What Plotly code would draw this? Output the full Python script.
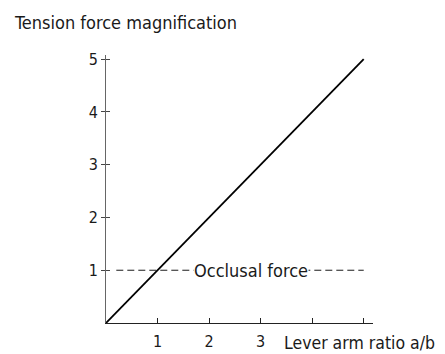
import plotly.graph_objects as go

# lever arm ratio vs tension force magnification
lever_ratio = [0, 5]
tension = [0, 5]

occlusal_x = [0.2, 5.0]
occlusal_y = [1, 1]

x_ticks = [1, 2, 3, 4, 5]
x_labels = ["1", "2", "3", "", ""]
y_ticks = [1, 2, 3, 4, 5]

FONT = "DejaVu Sans Condensed, Liberation Sans Narrow, Arial"
INK = "#1a1a1a"

fig = go.Figure()
fig.add_trace(go.Scatter(x=occlusal_x, y=occlusal_y, mode="lines",
                         line=dict(color=INK, width=1, dash="7px,4px"),
                         hoverinfo="skip"))
fig.add_trace(go.Scatter(x=lever_ratio, y=tension, mode="lines",
                         line=dict(color="black", width=1.8)))

fig.add_annotation(x=2.82, y=1, text="Occlusal force", showarrow=False,
                   bgcolor="white", font=dict(size=18, color=INK),
                   xref="x", yref="y", borderpad=0)
fig.add_annotation(x=1.0, y=0, xref="paper", yref="paper",
                   xanchor="left", yanchor="middle", text="Lever arm ratio a/b",
                   showarrow=False, font=dict(size=17.5, color=INK),
                   xshift=-91, yshift=-20)
fig.add_annotation(x=0, y=1, xref="paper", yref="paper", xanchor="left",
                   yanchor="middle", text="Tension force magnification",
                   showarrow=False, font=dict(size=18, color=INK),
                   xshift=-94, yshift=33)

# the page puts the plot 8px in from the top-left corner
fig.update_layout(
    width=437, height=346,
    margin=dict(l=98, r=72, t=47, b=31),
    paper_bgcolor="white", plot_bgcolor="white",
    showlegend=False,
    font=dict(family=FONT, size=16, color=INK),
    xaxis=dict(range=[0, 5.18], tickvals=x_ticks, ticktext=x_labels,
               ticks="inside", ticklen=5, tickcolor="#222",
               ticklabelstandoff=4, automargin=False,
               showline=True, linecolor="#222", linewidth=1.2,
               showgrid=False, zeroline=False, fixedrange=True),
    yaxis=dict(range=[0, 5.08], tickvals=y_ticks, ticks="outside",
               ticklen=4, tickcolor="#444", showline=True, linecolor="#666",
               linewidth=1, showgrid=False, zeroline=False, fixedrange=True,
               automargin=False),
    yaxis2=dict(range=[0, 5.08], tickvals=y_ticks, ticks="inside",
                ticklen=4, tickcolor="#444", showticklabels=False,
                overlaying="y", side="left", showgrid=False, zeroline=False,
                automargin=False),
)
fig.add_trace(go.Scatter(x=[None], y=[None], yaxis="y2"))

fig.write_html("out.html")
